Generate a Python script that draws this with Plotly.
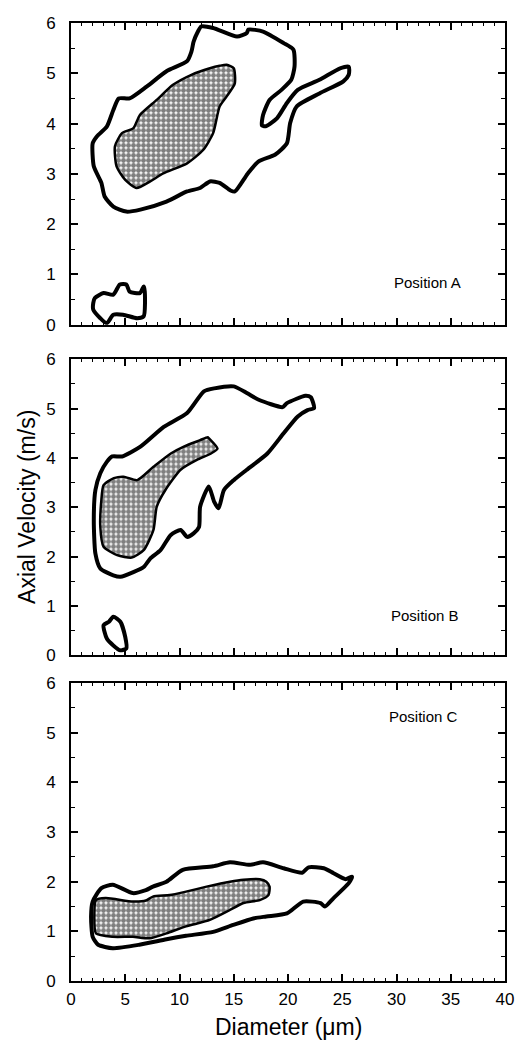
import plotly.graph_objects as go

# ---- data (Diameter in um, Axial velocity in m/s) ----
a_outer_x = [12.0, 13.1, 15.3, 16.2, 16.35, 17.7, 19.6, 20.5, 20.6, 20.3, 19.4, 18.3, 17.7, 17.6, 18.0, 19.0, 19.9, 20.9, 22.9, 24.8, 25.6, 25.6, 25.1, 22.9, 20.8, 20.2, 19.9, 18.8, 17.3, 16.3, 15.1, 14.7, 13.7, 12.8, 11.9, 10.7, 8.8, 6.4, 5.1, 3.9, 3.1, 2.8, 2.1, 2.0, 2.4, 3.3, 3.9, 4.4, 5.4, 7.0, 8.8, 10.7, 11.1, 11.3, 11.7, 12.0]
a_outer_y = [5.93, 5.9, 5.73, 5.8, 5.87, 5.83, 5.6, 5.47, 5.13, 4.87, 4.67, 4.47, 4.17, 3.96, 3.95, 4.11, 4.41, 4.67, 4.87, 5.1, 5.13, 4.97, 4.84, 4.6, 4.34, 4.01, 3.61, 3.38, 3.25, 3.01, 2.65, 2.67, 2.82, 2.85, 2.72, 2.65, 2.45, 2.29, 2.25, 2.35, 2.55, 2.82, 3.15, 3.61, 3.75, 3.94, 4.27, 4.5, 4.5, 4.74, 5.04, 5.24, 5.43, 5.63, 5.83, 5.93]
a_inner_x = [14.35, 15.0, 15.1, 14.35, 13.7, 13.1, 12.2, 10.7, 8.5, 7.3, 6.05, 5.0, 4.2, 4.05, 4.7, 5.75, 6.35, 7.9, 9.4, 11.1, 12.8, 13.7, 14.35]
a_inner_y = [5.17, 5.10, 4.8, 4.54, 4.34, 3.81, 3.48, 3.21, 3.01, 2.85, 2.72, 2.88, 3.15, 3.55, 3.81, 3.91, 4.17, 4.47, 4.77, 4.97, 5.10, 5.15, 5.17]
a_blob_x = [2.2, 3.0, 3.9, 4.5, 5.1, 5.4, 6.35, 6.7, 6.8, 6.7, 6.1, 4.8, 3.9, 3.3, 2.7, 2.05, 2.05, 2.2]
a_blob_y = [0.53, 0.63, 0.6, 0.8, 0.8, 0.66, 0.63, 0.76, 0.66, 0.17, 0.13, 0.2, 0.2, 0.03, 0.13, 0.3, 0.43, 0.53]

b_outer_x = [15.0, 16.25, 17.3, 19.5, 19.9, 21.6, 22.1, 22.4, 21.8, 20.9, 19.6, 18.1, 16.2, 15.0, 14.1, 13.6, 13.2, 12.7, 11.9, 11.8, 11.3, 10.7, 10.1, 9.2, 8.25, 7.3, 6.7, 5.8, 4.55, 3.9, 2.7, 2.25, 2.1, 2.25, 2.7, 3.3, 3.8, 4.7, 6.4, 8.55, 10.7, 12.25, 13.2, 15.0]
b_outer_y = [5.45, 5.31, 5.18, 5.03, 5.11, 5.26, 5.23, 5.01, 4.97, 4.84, 4.5, 4.09, 3.76, 3.55, 3.35, 2.98, 3.11, 3.42, 3.01, 2.6, 2.47, 2.40, 2.54, 2.44, 2.13, 1.96, 1.79, 1.69, 1.59, 1.62, 1.76, 2.06, 2.74, 3.35, 3.69, 3.92, 4.03, 4.03, 4.23, 4.63, 4.91, 5.35, 5.41, 5.45]
b_inner_x = [12.7, 13.5, 12.9, 11.6, 10.1, 8.7, 7.9, 7.6, 6.7, 5.6, 4.25, 3.0, 2.7, 2.8, 3.0, 3.95, 4.85, 6.1, 7.6, 9.2, 10.4, 11.9, 12.6, 12.7]
b_inner_y = [4.40, 4.19, 4.09, 3.96, 3.76, 3.35, 3.01, 2.54, 2.13, 1.98, 2.03, 2.2, 2.6, 3.15, 3.45, 3.59, 3.62, 3.55, 3.82, 4.09, 4.23, 4.36, 4.42, 4.40]
b_blob_x = [3.9, 4.55, 5.0, 5.1, 4.55, 3.9, 3.3, 3.0, 3.5, 3.9]
b_blob_y = [0.78, 0.68, 0.37, 0.14, 0.1, 0.2, 0.34, 0.61, 0.68, 0.78]

c_outer_x = [2.0, 2.8, 3.85, 5.7, 6.9, 7.55, 8.8, 10.3, 13.1, 14.65, 16.5, 17.7, 19.6, 21.3, 21.9, 23.3, 24.2, 25.3, 25.9, 25.6, 24.2, 23.4, 23.0, 21.4, 19.9, 18.0, 16.8, 14.95, 13.1, 10.6, 8.8, 6.3, 3.85, 2.5, 2.0, 1.85, 2.0]
c_outer_y = [1.6, 1.87, 1.94, 1.77, 1.83, 1.9, 2.0, 2.24, 2.31, 2.39, 2.34, 2.39, 2.27, 2.18, 2.29, 2.27, 2.17, 2.05, 2.1, 1.97, 1.67, 1.5, 1.57, 1.6, 1.36, 1.3, 1.26, 1.13, 0.99, 0.91, 0.84, 0.73, 0.66, 0.73, 0.89, 1.3, 1.6]
c_inner_x = [2.3, 3.2, 5.7, 6.9, 7.55, 9.1, 10.6, 12.5, 14.65, 15.9, 17.4, 18.0, 18.3, 18.2, 17.4, 15.9, 14.65, 12.8, 10.6, 8.8, 7.25, 5.7, 3.85, 2.3, 2.15, 2.3]
c_inner_y = [1.63, 1.67, 1.6, 1.62, 1.7, 1.73, 1.8, 1.9, 2.0, 2.04, 2.05, 2.0, 1.9, 1.73, 1.63, 1.57, 1.43, 1.23, 1.1, 0.96, 0.86, 0.89, 0.89, 0.96, 1.3, 1.63]

panel_labels = ["Position A", "Position B", "Position C"]
label_x = [32.9, 32.6, 32.5]
label_y = [0.85, 0.81, 5.32]

x_ticks = [0, 5, 10, 15, 20, 25, 30, 35, 40]
y_ticks = [0, 1, 2, 3, 4, 5, 6]

panels = [
    ([(a_outer_x, a_outer_y), (a_blob_x, a_blob_y)], (a_inner_x, a_inner_y)),
    ([(b_outer_x, b_outer_y), (b_blob_x, b_blob_y)], (b_inner_x, b_inner_y)),
    ([(c_outer_x, c_outer_y)], (c_inner_x, c_inner_y)),
]

domains = [[0.685, 1.0], [0.340, 0.649], [0.0, 0.311]]
FONT = "Liberation Sans, Arial, sans-serif"

fig = go.Figure()
for i, (outers, inner) in enumerate(panels):
    xa = "x" if i == 0 else f"x{i+1}"
    ya = "y" if i == 0 else f"y{i+1}"
    fig.add_trace(go.Scatter(
        x=inner[0], y=inner[1], mode="lines", xaxis=xa, yaxis=ya,
        line=dict(color="black", width=2.5, shape="spline", smoothing=0.6),
        fill="toself", fillcolor="white",
        fillpattern=dict(shape=".", fgcolor="black", bgcolor="white", size=5, solidity=0.75),
        showlegend=False, hoverinfo="skip"))
    for ox, oy in outers:
        fig.add_trace(go.Scatter(
            x=ox, y=oy, mode="lines", xaxis=xa, yaxis=ya,
            line=dict(color="black", width=4, shape="spline", smoothing=0.6),
            showlegend=False, hoverinfo="skip"))
    fig.add_annotation(x=label_x[i], y=label_y[i], xref=xa, yref=ya,
                       text=panel_labels[i], showarrow=False,
                       font=dict(family=FONT, size=15, color="black"))

axis_common = dict(showgrid=False, zeroline=False, showline=True, linecolor="black",
                   linewidth=2, mirror="ticks", ticks="inside", tickcolor="black",
                   tickwidth=1.5, automargin=False)
for i in range(3):
    suffix = "" if i == 0 else str(i + 1)
    fig.layout["xaxis" + suffix] = dict(
        axis_common, range=[0, 40], tickvals=x_ticks, ticklen=7,
        anchor="y" + suffix, domain=[0, 1],
        showticklabels=(i == 2),
        tickfont=dict(family=FONT, size=17, color="black"),
        ticklabelstandoff=2,
        minor=dict(dtick=1, ticklen=3, ticks="inside", tickcolor="black", tickwidth=1),
        **({"matches": "x"} if i else {}))
    fig.layout["yaxis" + suffix] = dict(
        axis_common, range=[0, 6], tickvals=y_ticks, ticklen=7,
        anchor="x" + suffix, domain=domains[i],
        tickfont=dict(family=FONT, size=17, color="black"),
        ticklabelstandoff=10,
        minor=dict(dtick=0.5, ticklen=4, ticks="inside", tickcolor="black", tickwidth=1))

fig.add_annotation(x=-0.101, y=0.495, xref="paper", yref="paper", xanchor="center",
                   yanchor="middle",
                   text="Axial Velocity (m/s)", textangle=-90, showarrow=False,
                   font=dict(family=FONT, size=23, color="black"))
fig.add_annotation(x=0.5, y=-0.048, xref="paper", yref="paper", yanchor="middle",
                   text="Diameter (μm)", showarrow=False,
                   font=dict(family=FONT, size=23, color="black"))

fig.update_layout(width=517, height=1040, margin=dict(l=71, r=12, t=23, b=59, autoexpand=False),
                  plot_bgcolor="white", paper_bgcolor="white")
fig.write_html("out.html")
